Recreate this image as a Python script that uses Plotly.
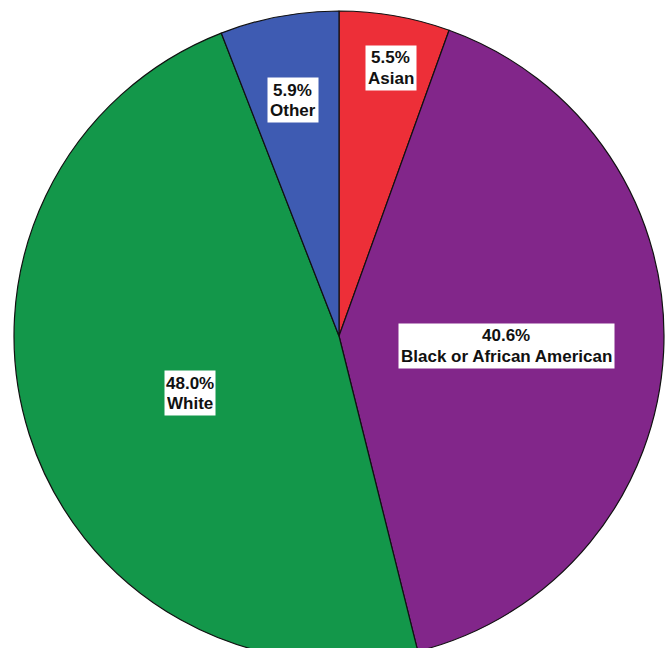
import math
import plotly.graph_objects as go

# ---- data ----
categories = ["Asian", "Black or African American", "White", "Other"]
percentages = [5.5, 40.6, 48.0, 5.9]

# ---- styles ----
colors = ["#ED2F38", "#82268A", "#13974A", "#3E5BB2"]
label_radius_frac = [0.84, 0.515, 0.49, 0.74]
label_angle_offset_deg = [1.0, 0.4, -3.5, -0.5]

W, H = 666, 672
dom_x = [14 / W, 664 / W]
dom_y = [0.0, 1.0]
FONT = "Liberation Sans, Arial, sans-serif"
FS = 17
LINE_GAP = 20
BOX_TEXT_H = 40

fig = go.Figure(
    go.Pie(
        labels=categories,
        values=percentages,
        sort=False,
        direction="clockwise",
        rotation=0,
        marker=dict(colors=colors, line=dict(color="#111111", width=1.2)),
        textinfo="none",
        hoverinfo="none",
        domain=dict(x=dom_x, y=dom_y),
        showlegend=False,
    )
)

# label positions derived from the slice mid-angles
r_px = min(W * (dom_x[1] - dom_x[0]), H * (dom_y[1] - dom_y[0])) / 2
cx = (dom_x[0] + dom_x[1]) / 2
cy = (dom_y[0] + dom_y[1]) / 2
total = sum(percentages)
cum = 0.0
annotations = []
for cat, pct, frac, off in zip(categories, percentages, label_radius_frac, label_angle_offset_deg):
    mid = (cum + pct / 2) / total * 2 * math.pi + math.radians(off)
    cum += pct
    d = frac * r_px
    x = cx + d * math.sin(mid) / W
    y = cy + d * math.cos(mid) / H
    annotations.append(dict(
        x=x, y=y, xref="paper", yref="paper", xanchor="center", yanchor="middle",
        text="<b>%s</b>" % cat, showarrow=False, bgcolor="white",
        height=BOX_TEXT_H, valign="bottom", borderpad=2,
        font=dict(family=FONT, size=FS, color="#111111"),
    ))
    annotations.append(dict(
        x=x, y=y, xref="paper", yref="paper", xanchor="center", yanchor="middle",
        text="<b>%.1f%%</b>" % pct, showarrow=False,
        yshift=LINE_GAP / 2,
        font=dict(family=FONT, size=FS, color="#111111"),
    ))

fig.update_layout(
    width=W, height=H,
    margin=dict(l=0, r=0, t=0, b=0),
    paper_bgcolor="white", plot_bgcolor="white",
    annotations=annotations,
)

fig.write_html(
    "out.html",
    post_script="document.documentElement.style.overflow='hidden';document.body.style.overflow='hidden';",
)
